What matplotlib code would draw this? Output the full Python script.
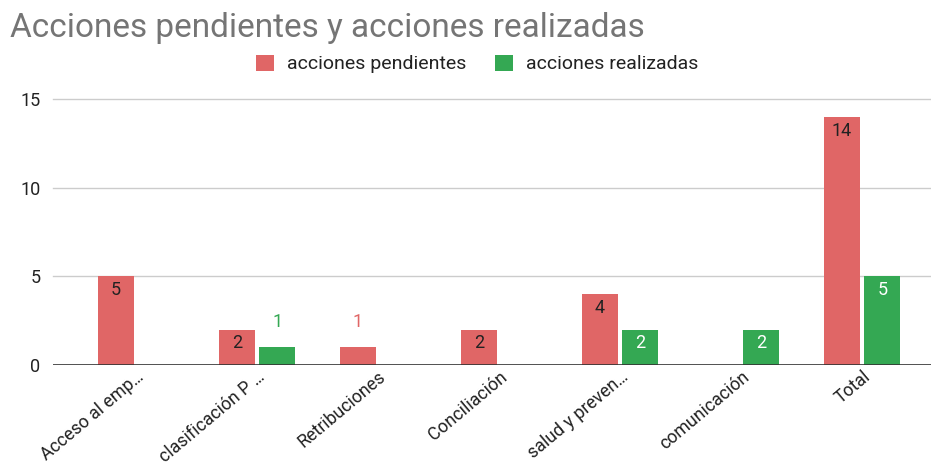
import matplotlib
matplotlib.use("Agg")
import matplotlib.pyplot as plt
from matplotlib.patches import Patch
import numpy as np

plt.rcParams['font.family'] = ['Roboto', 'DejaVu Sans']

categories = ["Acceso al emp…", "clasificación P …", "Retribuciones", "Conciliación",
              "salud y preven…", "comunicación", "Total"]
pendientes = [5, 2, 1, 2, 4, 0, 14]
realizadas = [0, 1, 0, 0, 2, 2, 5]
series_names = ["acciones pendientes", "acciones realizadas"]
yticks = [0, 5, 10, 15]

RED = "#E06666"
GREEN = "#34A853"
GRID = "#CCCCCC"
TEXT = "#222222"

fig = plt.figure(figsize=(9.31, 4.68), dpi=100)
ax = fig.add_axes([53 / 931, 103 / 468, 878 / 931, 266 / 468])

x = np.arange(len(categories))
w = 0.30
gap = 0.017
offsets = [-(w / 2 + gap), (w / 2 + gap)]
colors = [RED, GREEN]
inside_colors = [TEXT, "white"]

for vals, off, col, icol in zip([pendientes, realizadas], offsets, colors, inside_colors):
    bars = ax.bar(x + off, vals, width=w, color=col, linewidth=0, zorder=3)
    for b, v in zip(bars, vals):
        if v == 0:
            continue
        cx = b.get_x() + b.get_width() / 2
        if v >= 2:
            ax.annotate(str(v), (cx, v), xytext=(0, -10), textcoords="offset points",
                        ha="center", va="center", fontsize=13, color=icol, zorder=4)
        else:
            ax.annotate(str(v), (cx, v), xytext=(0, 18), textcoords="offset points",
                        ha="center", va="center", fontsize=13, color=col, zorder=4)

ax.set_xlim(-0.686, 6.57)
ax.set_ylim(0, 15)
ax.set_yticks(yticks)
ax.set_yticklabels([str(t) for t in yticks], fontsize=13, color=TEXT)
for t in yticks[1:]:
    ax.axhline(t, color=GRID, linewidth=1, zorder=1, clip_on=False)
ax.axhline(0, color="#333333", linewidth=1.2, zorder=5)

ax.set_xticks(x)
ax.set_xticklabels(categories, rotation=40, ha="right", va="top",
                   rotation_mode="anchor", fontsize=12.8, color=TEXT)
ax.tick_params(axis="both", length=0)
ax.tick_params(axis="y", pad=9)
ax.tick_params(axis="x", pad=2)
for s in ax.spines.values():
    s.set_visible(False)

fig.text(10 / 931, 1 - 28 / 468, "Acciones pendientes y acciones realizadas",
         fontsize=24, color="#757575", ha="left", va="center")

handles = [Patch(facecolor=c, edgecolor="none") for c in colors]
fig.legend(handles, series_names, loc="center", bbox_to_anchor=(477 / 931, 1 - 64 / 468),
           ncol=2, frameon=False, fontsize=14, handlelength=0.93, handleheight=0.93,
           columnspacing=1.5, handletextpad=0.65, labelcolor=TEXT)

fig.savefig("out.png", dpi=100)
